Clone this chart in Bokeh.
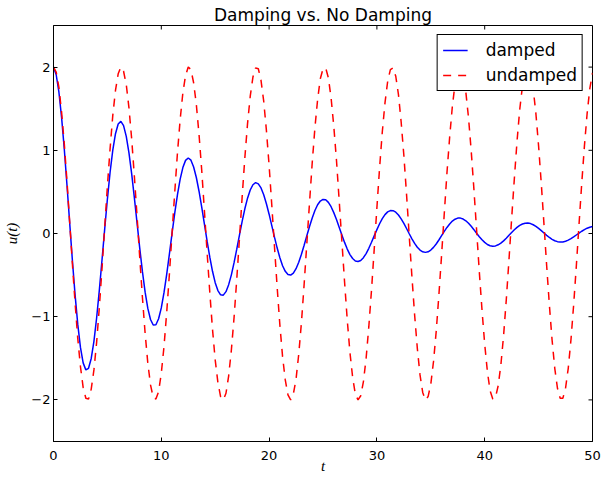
from bokeh.plotting import figure
from bokeh.models import FixedTicker, Legend, LegendItem, Range1d
from bokeh.embed import file_html
from bokeh.resources import INLINE

title_text = "Damping vs. No Damping"
x_label = "t"
y_label = "u(t)"
series_names = ["damped", "undamped"]
x_ticks = [0, 10, 20, 30, 40, 50]
y_ticks = [-2, -1, 0, 1, 2]
y_tick_labels = {-2: "\u22122", -1: "\u22121", 0: "0", 1: "1", 2: "2"}
x_lim = (0, 50)
y_lim = (-2.5, 2.5)

t = [
    0.0, 0.25, 0.5, 0.75, 1.0, 1.25, 1.5, 1.75, 2.0, 2.25,
    2.5, 2.75, 3.0, 3.25, 3.5, 3.75, 4.0, 4.25, 4.5, 4.75,
    5.0, 5.25, 5.5, 5.75, 6.0, 6.25, 6.5, 6.75, 7.0, 7.25,
    7.5, 7.75, 8.0, 8.25, 8.5, 8.75, 9.0, 9.25, 9.5, 9.75,
    10.0, 10.25, 10.5, 10.75, 11.0, 11.25, 11.5, 11.75, 12.0, 12.25,
    12.5, 12.75, 13.0, 13.25, 13.5, 13.75, 14.0, 14.25, 14.5, 14.75,
    15.0, 15.25, 15.5, 15.75, 16.0, 16.25, 16.5, 16.75, 17.0, 17.25,
    17.5, 17.75, 18.0, 18.25, 18.5, 18.75, 19.0, 19.25, 19.5, 19.75,
    20.0, 20.25, 20.5, 20.75, 21.0, 21.25, 21.5, 21.75, 22.0, 22.25,
    22.5, 22.75, 23.0, 23.25, 23.5, 23.75, 24.0, 24.25, 24.5, 24.75,
    25.0, 25.25, 25.5, 25.75, 26.0, 26.25, 26.5, 26.75, 27.0, 27.25,
    27.5, 27.75, 28.0, 28.25, 28.5, 28.75, 29.0, 29.25, 29.5, 29.75,
    30.0, 30.25, 30.5, 30.75, 31.0, 31.25, 31.5, 31.75, 32.0, 32.25,
    32.5, 32.75, 33.0, 33.25, 33.5, 33.75, 34.0, 34.25, 34.5, 34.75,
    35.0, 35.25, 35.5, 35.75, 36.0, 36.25, 36.5, 36.75, 37.0, 37.25,
    37.5, 37.75, 38.0, 38.25, 38.5, 38.75, 39.0, 39.25, 39.5, 39.75,
    40.0, 40.25, 40.5, 40.75, 41.0, 41.25, 41.5, 41.75, 42.0, 42.25,
    42.5, 42.75, 43.0, 43.25, 43.5, 43.75, 44.0, 44.25, 44.5, 44.75,
    45.0, 45.25, 45.5, 45.75, 46.0, 46.25, 46.5, 46.75, 47.0, 47.25,
    47.5, 47.75, 48.0, 48.25, 48.5, 48.75, 49.0, 49.25, 49.5, 49.75,
    50.0,
]

damped = [
    2.000, 1.908, 1.701, 1.396, 1.015, 0.583, 0.129, -0.319, -0.734, -1.090,
    -1.369, -1.555, -1.639, -1.620, -1.502, -1.296, -1.016, -0.683, -0.318, 0.056,
    0.414, 0.736, 1.002, 1.199, 1.316, 1.348, 1.297, 1.167, 0.970, 0.719,
    0.432, 0.127, -0.176, -0.459, -0.705, -0.900, -1.034, -1.100, -1.096, -1.025,
    -0.894, -0.711, -0.491, -0.247, 0.004, 0.248, 0.468, 0.653, 0.792, 0.879,
    0.908, 0.881, 0.800, 0.673, 0.508, 0.318, 0.113, -0.092, -0.285, -0.454,
    -0.591, -0.686, -0.737, -0.741, -0.699, -0.615, -0.497, -0.351, -0.189, -0.019,
    0.146, 0.297, 0.425, 0.523, 0.586, 0.611, 0.597, 0.548, 0.466, 0.358,
    0.232, 0.095, -0.044, -0.175, -0.292, -0.387, -0.455, -0.493, -0.500, -0.476,
    -0.423, -0.346, -0.250, -0.142, -0.028, 0.084, 0.187, 0.276, 0.345, 0.390,
    0.410, 0.405, 0.374, 0.322, 0.251, 0.168, 0.076, -0.017, -0.107, -0.187,
    -0.253, -0.301, -0.330, -0.337, -0.324, -0.291, -0.241, -0.178, -0.105, -0.029,
    0.047, 0.117, 0.178, 0.227, 0.260, 0.275, 0.274, 0.256, 0.222, 0.176,
    0.121, 0.060, -0.003, -0.064, -0.119, -0.165, -0.199, -0.220, -0.227, -0.220,
    -0.199, -0.167, -0.126, -0.078, -0.026, 0.025, 0.073, 0.115, 0.149, 0.172,
    0.185, 0.185, 0.174, 0.153, 0.123, 0.086, 0.046, 0.003, -0.038, -0.076,
    -0.107, -0.132, -0.147, -0.153, -0.149, -0.136, -0.116, -0.089, -0.057, -0.022,
    0.012, 0.045, 0.074, 0.098, 0.114, 0.124, 0.125, 0.119, 0.105, 0.086,
    0.062, 0.035, 0.006, -0.022, -0.048, -0.070, -0.087, -0.098, -0.103, -0.101,
    -0.093, -0.080, -0.062, -0.041, -0.018, 0.005, 0.027, 0.047, 0.064, 0.076,
    0.083,
]

undamped = [
    2.00, 1.94, 1.76, 1.46, 1.08, 0.63, 0.14, -0.36, -0.83, -1.26,
    -1.60, -1.85, -1.98, -1.99, -1.87, -1.64, -1.31, -0.89, -0.42, 0.08,
    0.57, 1.02, 1.42, 1.72, 1.92, 2.00, 1.95, 1.79, 1.51, 1.14,
    0.69, 0.21, -0.29, -0.77, -1.20, -1.56, -1.82, -1.97, -1.99, -1.90,
    -1.68, -1.36, -0.95, -0.49, 0.01, 0.50, 0.97, 1.37, 1.69, 1.90,
    2.00, 1.97, 1.81, 1.55, 1.19, 0.76, 0.27, -0.23, -0.71, -1.15,
    -1.52, -1.79, -1.96, -2.00, -1.92, -1.71, -1.40, -1.01, -0.55, -0.06,
    0.44, 0.91, 1.32, 1.65, 1.88, 1.99, 1.98, 1.84, 1.59, 1.24,
    0.82, 0.34, -0.16, -0.65, -1.10, -1.48, -1.76, -1.94, -2.00, -1.93,
    -1.75, -1.45, -1.07, -0.61, -0.12, 0.37, 0.85, 1.27, 1.61, 1.86,
    1.98, 1.99, 1.87, 1.63, 1.29, 0.88, 0.40, -0.09, -0.58, -1.04,
    -1.43, -1.73, -1.93, -2.00, -1.95, -1.78, -1.50, -1.12, -0.68, -0.19,
    0.31, 0.79, 1.22, 1.57, 1.83, 1.97, 1.99, 1.89, 1.67, 1.34,
    0.94, 0.47, -0.03, -0.52, -0.98, -1.38, -1.70, -1.91, -2.00, -1.96,
    -1.81, -1.54, -1.18, -0.74, -0.26, 0.24, 0.73, 1.16, 1.53, 1.80,
    1.96, 2.00, 1.91, 1.70, 1.39, 0.99, 0.53, 0.04, -0.46, -0.92,
    -1.33, -1.66, -1.89, -1.99, -1.97, -1.83, -1.58, -1.23, -0.80, -0.32,
    0.18, 0.66, 1.11, 1.49, 1.77, 1.95, 2.00, 1.93, 1.74, 1.44,
    1.05, 0.60, 0.11, -0.39, -0.86, -1.28, -1.62, -1.86, -1.98, -1.98,
    -1.86, -1.62, -1.28, -0.86, -0.39, 0.11, 0.60, 1.05, 1.44, 1.74,
    1.93,
]

p = figure(
    width=603, height=477,
    output_backend="svg", toolbar_location=None,
    x_range=Range1d(*x_lim), y_range=Range1d(*y_lim),
    x_axis_label=x_label, y_axis_label=y_label,
    min_border_left=53, min_border_right=11, min_border_top=25, min_border_bottom=36,
)
p.title.text = title_text
p.title.align = "center"
p.title.text_font = "DejaVu Sans"
p.title.text_font_size = "17px"
p.title.text_font_style = "normal"
p.title.text_color = "black"
p.title.standoff = 2

p.xgrid.grid_line_color = None
p.ygrid.grid_line_color = None
p.outline_line_color = "black"
p.outline_line_alpha = 1
p.outline_line_width = 1
p.background_fill_color = "white"
p.border_fill_color = "white"

p.xaxis.ticker = FixedTicker(ticks=x_ticks)
p.yaxis.ticker = FixedTicker(ticks=y_ticks)
p.yaxis.major_label_overrides = y_tick_labels

for ax in [p.xaxis[0], p.yaxis[0]]:
    ax.major_tick_in = 4
    ax.major_tick_out = 0
    ax.minor_tick_in = 0
    ax.minor_tick_out = 0
    ax.axis_line_color = "black"
    ax.major_tick_line_color = "black"
    ax.major_label_text_font = "DejaVu Sans"
    ax.major_label_text_font_size = "13px"
    ax.major_label_text_color = "black"
    ax.axis_label_text_font = "Liberation Serif"
    ax.axis_label_text_font_style = "italic"
    ax.axis_label_text_font_size = "15px"
    ax.axis_label_text_color = "black"

p.xaxis.major_label_standoff = 9
p.xaxis.axis_label_standoff = -5
p.yaxis.major_label_standoff = 3
p.yaxis.axis_label_standoff = 8

# ticks on the top and right frame edges (inward, 4 px long)
y_per_px = (y_lim[1] - y_lim[0]) / 416.0
x_per_px = (x_lim[1] - x_lim[0]) / 539.0
p.segment(x0=x_ticks, y0=[y_lim[1]] * len(x_ticks), x1=x_ticks,
          y1=[y_lim[1] - 4 * y_per_px] * len(x_ticks), line_color="black", line_width=1)
p.segment(x0=[x_lim[1]] * len(y_ticks), y0=y_ticks, x1=[x_lim[1] - 4 * x_per_px] * len(y_ticks),
          y1=y_ticks, line_color="black", line_width=1)

r_damped = p.line(t, damped, line_color="#0000ff", line_width=1.5)
r_undamped = p.line(t, undamped, line_color="#ff0000", line_width=1.5, line_dash="8 7")

legend = Legend(items=[
    LegendItem(label=series_names[0], renderers=[r_damped]),
    LegendItem(label=series_names[1], renderers=[r_undamped]),
], location="top_right")
legend.border_line_color = "black"
legend.border_line_width = 1
legend.border_line_alpha = 1
legend.background_fill_color = "white"
legend.background_fill_alpha = 1
legend.padding = 5
legend.spacing = 5
legend.margin = 9
legend.glyph_width = 25
legend.glyph_height = 20
legend.label_height = 20
legend.label_standoff = 18
legend.label_text_font = "DejaVu Sans"
legend.label_text_font_size = "17px"
legend.label_text_color = "black"
p.add_layout(legend)

open("out.html", "w").write(file_html(p, INLINE))
